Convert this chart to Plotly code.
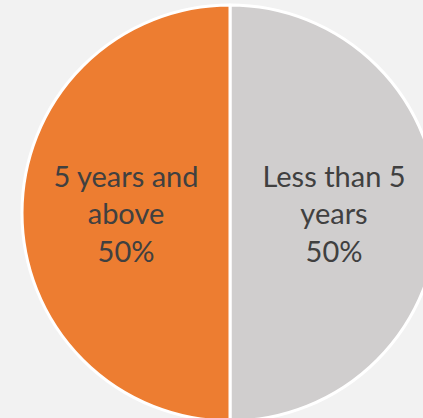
import plotly.graph_objects as go

labels = ["Less than 5<br>years", "5 years and<br>above"]
values = [50, 50]
colors = ["#D0CECE", "#ED7D31"]

W, H = 440, 426
fig = go.Figure(go.Pie(
    labels=labels,
    values=values,
    sort=False,
    direction="clockwise",
    rotation=0,
    marker=dict(colors=colors, line=dict(color="white", width=3)),
    textinfo="label+percent",
    texttemplate="%{label}<br>%{percent:.0%}",
    textposition="inside",
    insidetextorientation="horizontal",
    textfont=dict(family="Lato", size=29, color="#404040"),
    hoverinfo="skip",
    showlegend=False,
    domain=dict(x=[22 / W, 438 / W], y=[(H - 421) / H, (H - 5) / H]),
))
fig.update_layout(
    width=W, height=H,
    margin=dict(l=0, r=0, t=0, b=0),
    paper_bgcolor="#F2F2F2",
    plot_bgcolor="#F2F2F2",
    uniformtext=dict(minsize=29, mode="show"),
)
fig.write_html(
    "out.html",
    config={"displayModeBar": False},
    post_script="document.body.style.margin='0';document.body.style.overflow='hidden';document.documentElement.style.overflow='hidden';document.body.style.background='#F2F2F2';",
)
